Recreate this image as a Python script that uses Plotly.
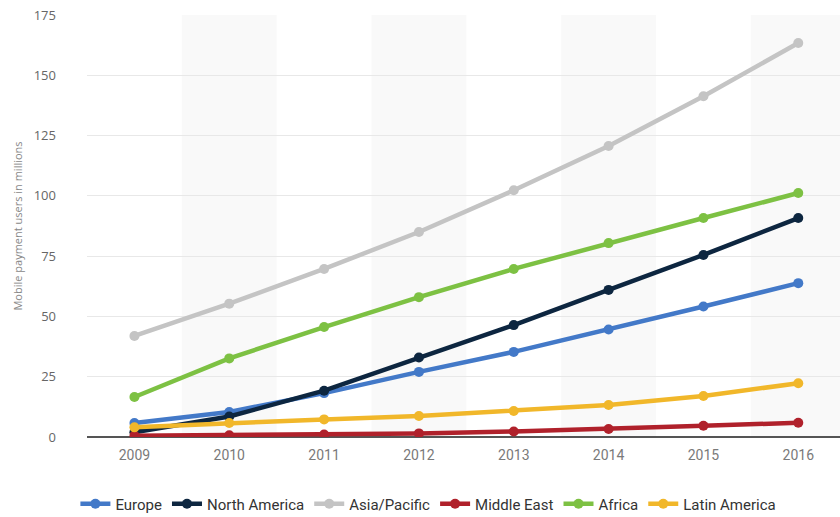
import plotly.graph_objects as go

years = [2009, 2010, 2011, 2012, 2013, 2014, 2015, 2016]
europe = [5.8, 10.4, 18.2, 27.0, 35.3, 44.6, 54.1, 63.8]
north_america = [2.0, 8.5, 19.2, 33.0, 46.4, 61.0, 75.5, 90.8]
asia_pacific = [41.9, 55.3, 69.7, 85.0, 102.3, 120.7, 141.3, 163.4]
middle_east = [0.5, 0.7, 1.0, 1.5, 2.3, 3.3, 4.7, 5.9]
africa = [16.6, 32.6, 45.6, 58.0, 69.7, 80.4, 90.8, 101.2]
latin_america = [4.0, 5.8, 7.3, 8.7, 10.8, 13.3, 17.0, 22.3]

series = [
    ("Europe", europe, "#4379c8"),
    ("North America", north_america, "#0d2640"),
    ("Asia/Pacific", asia_pacific, "#c4c4c4"),
    ("Middle East", middle_east, "#b0212b"),
    ("Africa", africa, "#7dc143"),
    ("Latin America", latin_america, "#f1b72a"),
]

fig = go.Figure()
for name, vals, color in series:
    fig.add_trace(go.Scatter(
        x=years, y=vals, name=name, mode="lines+markers",
        line=dict(color=color, width=4.5),
        marker=dict(color=color, size=10),
    ))

# alternating background bands
for i, yr in enumerate(years):
    if i % 2 == 1:
        fig.add_shape(type="rect", xref="x", yref="paper",
                      x0=yr - 0.5, x1=yr + 0.5, y0=0, y1=1,
                      fillcolor="#f9f9f9", line_width=0, layer="below")

fig.update_layout(
    width=840, height=517,
    margin=dict(l=87, r=0, t=15, b=80),
    paper_bgcolor="white", plot_bgcolor="white",
    showlegend=True,
    legend=dict(orientation="h", xref="container", yref="container",
                x=0.51, xanchor="center", y=0.025, yanchor="middle",
                font=dict(family="Roboto, sans-serif", size=15, color="#333333"),
                traceorder="normal", entrywidthmode="pixels"),
    font=dict(family="Open Sans, sans-serif", color="#666666"),
)

fig.update_xaxes(
    range=[2008.5, 2016.44], tickmode="array", tickvals=years,
    ticktext=[str(y) for y in years], showgrid=False,
    showline=False, zeroline=False, ticks="",
    tickfont=dict(family="Roboto, sans-serif", size=14, color="#7a7a7a"),
    ticklabelstandoff=8,
)
fig.update_yaxes(
    range=[0, 175], tickvals=[0, 25, 50, 75, 100, 125, 150, 175],
    showgrid=True, gridcolor="#e8e8e8", gridwidth=1,
    zeroline=True, zerolinecolor="#555555", zerolinewidth=1.5,
    tickfont=dict(family="Open Sans, sans-serif", size=13, color="#666666"),
    ticklabelstandoff=30,
    title=dict(text="Mobile payment users in millions",
               font=dict(family="Open Sans, sans-serif", size=11, color="#888888"),
               standoff=8),
)

fig.write_html("out.html")
